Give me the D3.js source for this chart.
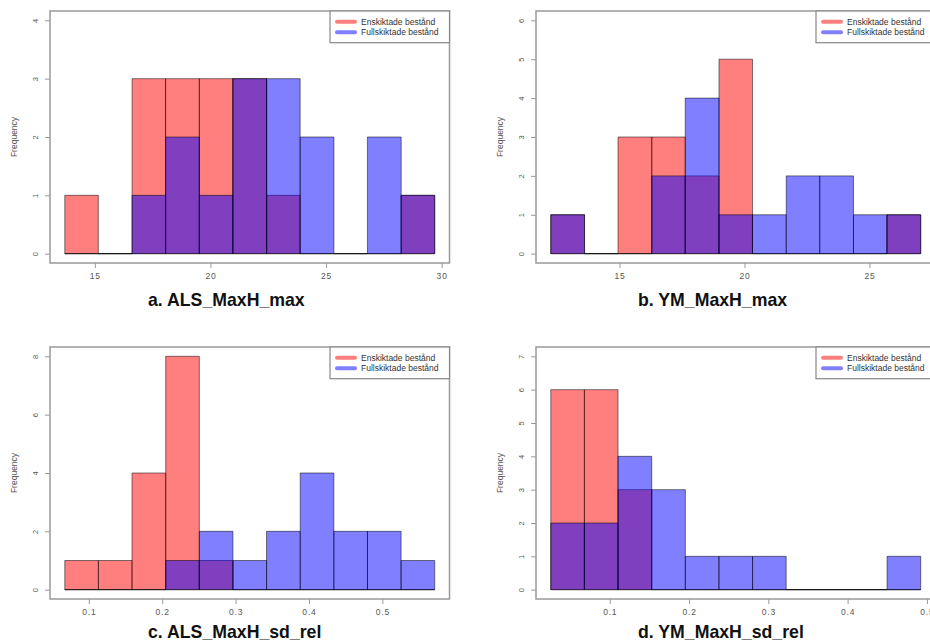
<!DOCTYPE html>
<html>
<head>
<meta charset="utf-8">
<script src="https://cdn.jsdelivr.net/npm/d3@7"></script>
<style>
  body { margin: 0; background: #fff; }
  svg { display: block; font-family: "Liberation Sans", Arial, sans-serif; }
</style>
</head>
<body>
<div id="chart_wrapper"></div>
<script>
// histogram data
var panelTitles = ["a. ALS_MaxH_max", "b. YM_MaxH_max", "c. ALS_MaxH_sd_rel", "d. YM_MaxH_sd_rel"];
var legendLabels = ["Enskiktade bestånd", "Fullskiktade bestånd"];

var breaksA = [13.70, 15.15, 16.61, 18.06, 19.52, 20.97, 22.43, 23.88, 25.34, 26.79, 28.25, 29.70];
var enskiktA = [1, 0, 3, 3, 3, 3, 1, 0, 0, 0, 1];
var fullskiktA = [0, 0, 1, 2, 1, 3, 3, 2, 0, 2, 1];

var breaksB = [12.25, 13.60, 14.94, 16.29, 17.63, 18.98, 20.32, 21.67, 23.01, 24.36, 25.70, 27.05];
var enskiktB = [1, 0, 3, 3, 2, 5, 0, 0, 0, 0, 1];
var fullskiktB = [1, 0, 0, 2, 4, 1, 1, 2, 2, 1, 1];

var breaksC = [0.0673, 0.1131, 0.1589, 0.2048, 0.2506, 0.2964, 0.3422, 0.3881, 0.4339, 0.4797, 0.5255, 0.5713];
var enskiktC = [1, 1, 4, 8, 1, 0, 0, 0, 0, 0, 0];
var fullskiktC = [0, 0, 0, 1, 2, 1, 2, 4, 2, 2, 1];

var breaksD = [0.0256, 0.0680, 0.1104, 0.1529, 0.1953, 0.2377, 0.2801, 0.3225, 0.3650, 0.4074, 0.4498, 0.4922];
var enskiktD = [6, 6, 3, 0, 0, 0, 0, 0, 0, 0, 0];
var fullskiktD = [2, 2, 4, 3, 1, 1, 1, 0, 0, 0, 1];

var xTicksA = [15, 20, 25, 30];
var xTicksB = [15, 20, 25];
var xTicksC = [0.1, 0.2, 0.3, 0.4, 0.5];
var xTicksD = [0.1, 0.2, 0.3, 0.4, 0.5];

var yTicksA = [0, 1, 2, 3, 4];
var yTicksB = [0, 1, 2, 3, 4, 5, 6];
var yTicksC = [0, 2, 4, 6, 8];
var yTicksD = [0, 1, 2, 3, 4, 5, 6, 7];

var panels = [
  { title: panelTitles[0], breaks: breaksA, red: enskiktA, blue: fullskiktA, xTicks: xTicksA, yTicks: yTicksA, col: 0, row: 0 },
  { title: panelTitles[1], breaks: breaksB, red: enskiktB, blue: fullskiktB, xTicks: xTicksB, yTicks: yTicksB, col: 1, row: 0 },
  { title: panelTitles[2], breaks: breaksC, red: enskiktC, blue: fullskiktC, xTicks: xTicksC, yTicks: yTicksC, col: 0, row: 1 },
  { title: panelTitles[3], breaks: breaksD, red: enskiktD, blue: fullskiktD, xTicks: xTicksD, yTicks: yTicksD, col: 1, row: 1 }
];

var width = 930, height = 643;
var boxLeft = [50, 536];
var boxTop = [11, 347];
var boxW = 399.5, boxH = 252;
var titleX = [148, 638];
var titleDy = [43, 38.5];

var redFill = "rgba(255,0,0,0.5)";
var blueFill = "rgba(0,0,255,0.5)";
var axisGray = "#999";
var labelGray = "#555";

var svg = d3.select("#chart_wrapper")
  .append("svg")
  .attr("width", width)
  .attr("height", height);

panels.forEach(drawPanel);

function drawPanel(p) {
  var left = boxLeft[p.col], top = boxTop[p.row];
  var b0 = p.breaks[0], b1 = p.breaks[p.breaks.length - 1];
  var pad = (b1 - b0) * 0.04;
  var yMax = d3.max(p.yTicks);

  // R style 4% padding on both axes
  var x = d3.scaleLinear().domain([b0 - pad, b1 + pad]).range([left, left + boxW]);
  var y = d3.scaleLinear().domain([-yMax * 0.04, yMax * 1.04]).range([top + boxH, top]);

  var g = svg.append("g").attr("class", "panel");

  var barPath = function(v, i) {
    return "M" + x(p.breaks[i]) + "," + y(0) +
      "V" + y(v) + "H" + x(p.breaks[i + 1]) + "V" + y(0) + "Z";
  };

  g.append("g").selectAll("path")
    .data(p.red).enter()
    .append("path")
    .attr("d", barPath)
    .attr("fill", redFill)
    .attr("stroke", "#000")
    .attr("stroke-opacity", 0.5)
    .attr("stroke-width", 1);

  g.append("g").selectAll("path")
    .data(p.blue).enter()
    .append("path")
    .attr("d", barPath)
    .attr("fill", blueFill)
    .attr("stroke", "#000")
    .attr("stroke-opacity", 0.5)
    .attr("stroke-width", 1);

  // frame
  g.append("rect")
    .attr("x", left).attr("y", top)
    .attr("width", boxW).attr("height", boxH)
    .attr("fill", "none")
    .attr("stroke", axisGray)
    .attr("stroke-width", 1.5);

  // x axis
  var xAxis = d3.axisBottom(x)
    .tickValues(p.xTicks)
    .tickFormat(d3.format(p.xTicks[0] < 1 ? ".1f" : "d"))
    .tickSize(5).tickPadding(5).tickSizeOuter(0);

  var gx = g.append("g")
    .attr("transform", "translate(0," + (top + boxH) + ")")
    .call(xAxis);
  gx.select(".domain").remove();
  gx.selectAll("line").attr("stroke", axisGray);
  gx.selectAll("text")
    .attr("fill", labelGray)
    .attr("font-size", 8.5)
    .attr("letter-spacing", 0.8)
    .attr("font-family", "Liberation Sans, Arial, sans-serif");

  // y axis, labels parallel to the axis
  var yAxis = d3.axisLeft(y)
    .tickValues(p.yTicks)
    .tickFormat(d3.format("d"))
    .tickSize(5).tickSizeOuter(0);

  var gy = g.append("g")
    .attr("transform", "translate(" + left + ",0)")
    .call(yAxis);
  gy.select(".domain").remove();
  gy.selectAll("line").attr("stroke", axisGray);
  gy.selectAll("text")
    .attr("x", null).attr("dy", null)
    .attr("text-anchor", "middle")
    .attr("dominant-baseline", "central")
    .attr("transform", "translate(-15,0) rotate(-90)")
    .attr("fill", labelGray)
    .attr("font-size", 7.5)
    .attr("font-family", "Liberation Sans, Arial, sans-serif");

  g.append("text")
    .attr("transform", "translate(" + (left - 36) + "," + (top + boxH / 2) + ") rotate(-90)")
    .attr("text-anchor", "middle")
    .attr("dominant-baseline", "central")
    .attr("fill", labelGray)
    .attr("font-size", 8.5)
    .text("Frequency");

  // legend, top right corner of the frame
  var lgW = 119.5, lgH = 31.7;
  var lg = g.append("g")
    .attr("transform", "translate(" + (left + boxW - lgW) + "," + top + ")");
  lg.append("rect")
    .attr("width", lgW).attr("height", lgH)
    .attr("fill", "#fff")
    .attr("stroke", "#888")
    .attr("stroke-width", 1.2);
  [redFill, blueFill].forEach(function(c, i) {
    var ly = 10.7 + i * 10.6;
    lg.append("line")
      .attr("x1", 7).attr("x2", 25)
      .attr("y1", ly).attr("y2", ly)
      .attr("stroke", c)
      .attr("stroke-width", 4)
      .attr("stroke-linecap", "round");
    lg.append("text")
      .attr("x", 31).attr("y", ly)
      .attr("dominant-baseline", "central")
      .attr("fill", "#333")
      .attr("font-size", 8.5)
      .text(legendLabels[i]);
  });

  g.append("text")
    .attr("x", titleX[p.col])
    .attr("y", top + boxH + titleDy[p.row])
    .attr("fill", "#111")
    .attr("font-size", 17.7)
    .attr("font-weight", "bold")
    .text(p.title);
}
</script>
</body>
</html>
